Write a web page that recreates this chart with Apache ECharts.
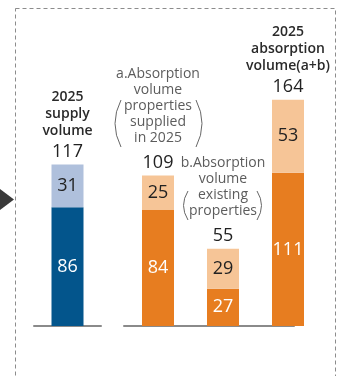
<!DOCTYPE html>
<html><head><meta charset="utf-8">
<script src="https://cdn.jsdelivr.net/npm/echarts@6/dist/echarts.min.js"></script>
<style>html,body{margin:0;padding:0;background:#fff}#c{width:344px;height:376px}</style>
</head><body><div id="c"></div>
<script>
// ---- data ----
const supplyCats = ['2025 supply volume'];
const supplyBase = [86];
const supplyTop = [31];
const supplyTotal = [117];
const supplyHead = [['2025', 'supply', 'volume']];

const absCats = ['a', 'b', 'a+b'];
const absBase = [84, 27, 111];
const absTop = [25, 29, 53];
const absTotal = [109, 55, 164];
const absHead = [
  { kind: 'd', lines: ['a.Absorption', 'volume', 'properties', 'supplied', 'in 2025'] },
  { kind: 'd', lines: ['b.Absorption', 'volume', 'existing', 'properties'] },
  { kind: 'h', lines: ['2025', 'absorption', 'volume(a+b)'] }
];

const FONT = '"Open Sans", "Noto Sans", sans-serif';
const C = { blue: '#03558C', lblue: '#AFC0DC', orange: '#E77D20', lorange: '#F6C597' };

const rich = {
  h: { fontFamily: FONT, fontSize: 14, fontWeight: 600, color: '#2a2a2a', lineHeight: 17 },
  d: { fontFamily: FONT, fontSize: 14, color: '#5c5c5c', lineHeight: 16 },
  s: { fontSize: 1, lineHeight: 5 },
  n: { fontFamily: FONT, fontSize: 18, color: '#222', lineHeight: 24 }
};

function headLabel(kind, lines, total) {
  let t = lines.map(l => '{' + kind + '|' + l + '}').join('\n');
  if (kind === 'd') t += '\n{s| }';
  return t + '\n{n|' + total + '}';
}

const yMax = 200;
const gridTop = 50, gridBottom = 50;
function yAx(i) { return { gridIndex: i, type: 'value', min: 0, max: yMax, show: false }; }
const inside = (color) => ({ show: true, position: 'inside', fontFamily: FONT, fontSize: 18, color: color });
const paren = (x1, y1, cx, x2, y2) => ({ type: 'bezierCurve', silent: true,
  shape: { x1: x1, y1: y1, x2: x2, y2: y2, cpx1: cx, cpy1: (y1 + y2) / 2 },
  style: { fill: 'none', stroke: '#666', lineWidth: 1 } });

const chart = echarts.init(document.getElementById('c'));
chart.setOption({
  animation: false,
  grid: [
    { left: 34, width: 67, top: gridTop, bottom: gridBottom },
    { left: 125.5, width: 195, top: gridTop, bottom: gridBottom },
    { left: 124, width: 170, top: gridTop, bottom: gridBottom }
  ],
  xAxis: [
    { gridIndex: 0, type: 'category', data: supplyCats, axisTick: { show: false }, axisLabel: { show: false },
      axisLine: { lineStyle: { color: '#8a8a8a', width: 2 } } },
    { gridIndex: 1, type: 'category', data: absCats, axisTick: { show: false }, axisLabel: { show: false }, axisLine: { show: false } },
    { gridIndex: 2, type: 'value', min: 0, max: 1, splitLine: { show: false }, axisTick: { show: false }, axisLabel: { show: false },
      axisLine: { show: true, lineStyle: { color: '#8a8a8a', width: 2 } } }
  ],
  yAxis: [yAx(0), yAx(1), yAx(2)],
  series: [
    { type: 'bar', xAxisIndex: 0, yAxisIndex: 0, stack: 's', barWidth: 32, data: supplyBase,
      itemStyle: { color: C.blue }, label: inside('#fff') },
    { type: 'bar', xAxisIndex: 0, yAxisIndex: 0, stack: 's', barWidth: 32, data: supplyTop,
      itemStyle: { color: C.lblue }, label: inside('#222') },
    { type: 'bar', xAxisIndex: 0, yAxisIndex: 0, stack: 's', barWidth: 32, data: supplyTotal.map(() => 0),
      itemStyle: { color: 'transparent' },
      label: { show: true, position: 'top', distance: 1, align: 'center',
        formatter: p => headLabel('h', supplyHead[p.dataIndex], supplyTotal[p.dataIndex]), rich: rich } },
    { type: 'bar', xAxisIndex: 1, yAxisIndex: 1, stack: 'a', barWidth: 32, data: absBase,
      itemStyle: { color: C.orange }, label: inside('#fff') },
    { type: 'bar', xAxisIndex: 1, yAxisIndex: 1, stack: 'a', barWidth: 32, data: absTop,
      itemStyle: { color: C.lorange }, label: inside('#222') },
    { type: 'bar', xAxisIndex: 1, yAxisIndex: 1, stack: 'a', barWidth: 32, data: absTotal.map(() => 0),
      itemStyle: { color: 'transparent' },
      label: { show: true, position: 'top', distance: 1, align: 'center',
        formatter: p => headLabel(absHead[p.dataIndex].kind, absHead[p.dataIndex].lines, absTotal[p.dataIndex]), rich: rich } }
  ],
  graphic: [
    { type: 'rect', silent: true, shape: { x: 15.5, y: 8.5, width: 320, height: 420 },
      style: { fill: 'none', stroke: '#8c8c8c', lineWidth: 1, lineDash: [4, 3] } },
    { type: 'polygon', silent: true, shape: { points: [[0, 189], [14, 199.5], [0, 210]] }, style: { fill: '#3a3a3a' } },
    paren(121, 100, 109, 121, 147),
    paren(196, 100, 208, 196, 147),
    paren(188, 191, 179, 188, 220),
    paren(257, 191, 266, 257, 220)
  ]
});
</script>
</body></html>
